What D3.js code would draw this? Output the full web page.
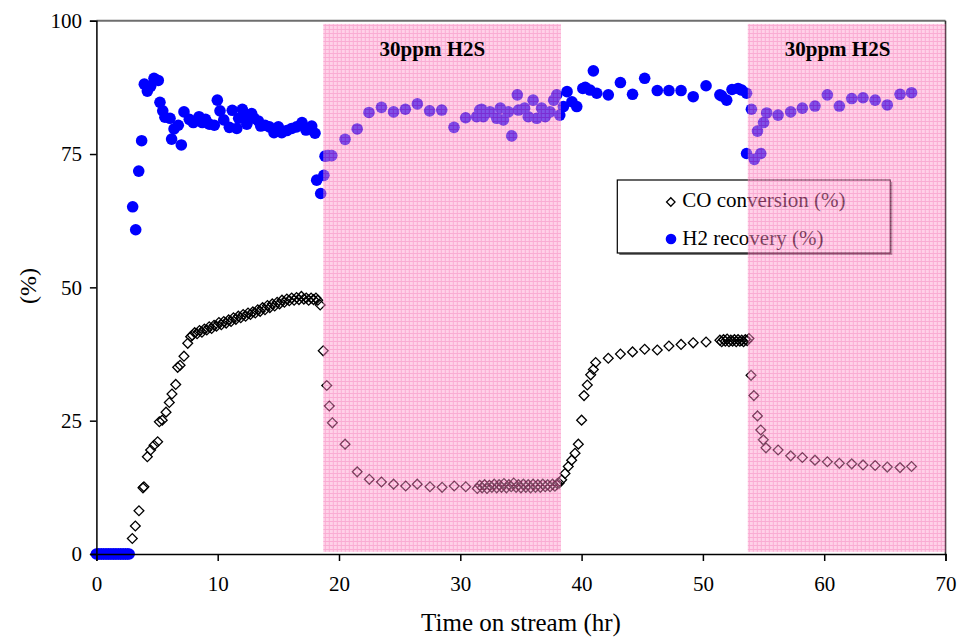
<!DOCTYPE html>
<meta charset="utf-8">
<script src="https://d3js.org/d3.v7.min.js"></script>
<style>
  body { margin: 0; background: #fff; }
  text { font-family: "Liberation Serif", "Times New Roman", serif; }
</style>
<div id="my_dataviz"></div>
<script>

// CO conversion (%) vs time on stream (hr)
var coTime = [0, 0.2, 0.4, 0.6, 0.8, 1.0, 1.2, 1.4, 1.6, 1.8, 2.0, 2.2, 2.4, 2.6,
  2.96, 3.21, 3.51, 3.84, 3.92, 4.2, 4.47, 4.75, 5.05, 5.19, 5.43, 5.74, 6.01, 6.23, 6.54, 6.7, 6.9, 7.22, 7.53, 7.77,
  7.9, 8.1, 8.3, 8.5, 8.7, 8.9, 9.1, 9.3, 9.5, 9.7, 9.9, 10.1, 10.3, 10.5, 10.7, 10.9, 11.1, 11.3, 11.5, 11.7, 11.9,
  12.1, 12.3, 12.5, 12.7, 12.9, 13.1, 13.3, 13.5, 13.7, 13.9, 14.1, 14.3, 14.5, 14.7, 14.9, 15.1, 15.3, 15.5, 15.7,
  15.9, 16.1, 16.3, 16.5, 16.7, 16.9, 17.1, 17.3, 17.5, 17.7, 17.9, 18.1, 18.25,
  18.45, 18.7, 18.99, 19.2, 19.45, 20.5, 21.5, 22.5, 23.5, 24.5, 25.5, 26.45, 27.5, 28.5, 29.5, 30.45,
  31.4, 31.6, 31.8, 32.0, 32.2, 32.4, 32.6, 32.8, 33.0, 33.2, 33.4, 33.6, 33.8, 34.0, 34.2, 34.4, 34.6, 34.8,
  35.0, 35.2, 35.4, 35.6, 35.8, 36.0, 36.2, 36.4, 36.6, 36.8, 37.0, 37.2, 37.4, 37.6, 37.8, 38.0, 38.15,
  38.36, 38.63, 38.9, 39.18, 39.46, 39.73, 40.0, 40.2, 40.47, 40.75, 40.97, 41.16, 42.2, 43.2, 44.2, 45.2,
  46.24, 47.2, 48.2, 49.2, 50.26,
  51.4, 51.55, 51.7, 51.85, 52.0, 52.15, 52.3, 52.45, 52.6, 52.75, 52.9, 53.05, 53.2, 53.35, 53.5, 53.65,
  53.8, 53.97, 54.2, 54.5, 54.77, 54.98, 55.2, 56.2, 57.24, 58.2, 59.24, 60.26, 61.25, 62.27, 63.2, 64.2, 65.2, 66.25, 67.2];
var coValue = [0, 0, 0, 0, 0, 0, 0, 0, 0, 0, 0, 0, 0, 0,
  2.9, 5.25, 8.1, 12.4, 12.6, 18.25, 19.5, 20.4, 21.05, 24.8, 25.1, 26.6, 28.4, 30.0, 31.8, 35.0, 35.4, 37.1, 39.5, 40.75,
  41.0, 41.5, 41.3, 41.9, 41.6, 42.2, 42.0, 42.6, 42.3, 42.9, 42.7, 43.4, 43.0, 43.6, 43.3, 43.9, 43.6, 44.3, 44.0, 44.6, 44.3,
  44.9, 44.6, 45.2, 44.9, 45.4, 45.2, 45.8, 45.5, 46.2, 45.8, 46.6, 46.2, 46.9, 46.5, 47.2, 46.9, 47.6, 47.2, 47.8,
  47.5, 48.0, 47.6, 48.1, 47.7, 48.3, 47.8, 48.0, 47.6, 48.0, 47.7, 48.0, 47.6,
  46.7, 38.1, 31.6, 27.75, 24.6, 20.6, 15.4, 14.0, 13.5, 13.1, 12.75, 13.1, 12.6, 12.5, 12.75, 12.6,
  12.3, 12.9, 12.4, 13.0, 12.3, 12.9, 12.5, 13.1, 12.4, 13.0, 12.5, 13.2, 12.4, 13.0, 12.6, 13.3, 12.5, 13.0,
  12.4, 13.1, 12.5, 13.0, 12.4, 13.1, 12.5, 13.0, 12.5, 13.1, 12.6, 13.0, 12.6, 13.1, 12.7, 13.2, 13.3,
  13.9, 15.1, 16.4, 17.6, 18.9, 20.6, 25.1, 29.7, 31.7, 33.6, 34.6, 35.9, 36.7, 37.5, 37.9, 38.4,
  38.25, 39.0, 39.3, 39.6, 39.75,
  40.1, 39.8, 40.2, 39.9, 40.3, 39.8, 40.1, 39.9, 40.2, 39.8, 40.2, 39.9, 40.1, 39.8, 40.2, 40.0,
  40.4, 33.5, 29.7, 25.9, 23.25, 21.4, 19.9, 19.5, 18.4, 18.1, 17.6, 17.3, 17.0, 16.9, 16.7, 16.6, 16.3, 16.2, 16.4];

// H2 recovery (%) vs time on stream (hr)
var h2Time = [0, 0.15, 0.3, 0.45, 0.6, 0.75, 0.9, 1.05, 1.2, 1.35, 1.5, 1.65, 1.8, 1.95, 2.1, 2.25, 2.4, 2.55, 2.7,
  2.99, 3.24, 3.49, 3.73, 3.95, 4.2, 4.47, 4.75, 5.1, 5.24, 5.47, 5.65, 6.07, 6.2, 6.4, 6.75, 7.0, 7.22, 7.66, 7.99,
  8.46, 8.73, 9.0, 9.31, 9.72, 9.97, 10.19, 10.5, 10.96, 11.2, 11.57, 11.73, 12.03, 12.4, 12.52, 12.8, 13.0, 13.35,
  13.55, 13.9, 14.26, 14.64, 15.0, 15.28, 15.7, 16.1, 16.5, 16.95, 17.28, 17.75, 18.02, 18.16, 18.49, 18.75,
  18.85, 19.1, 19.4, 20.5, 21.5, 22.47, 23.5, 24.5, 25.47, 26.46, 27.47, 28.47, 29.48, 30.44,
  31.35, 31.6, 31.76, 31.9, 32.45, 33.0, 33.3, 33.55, 33.96, 34.24, 34.7, 34.8, 35.3, 35.6, 36.0, 36.3, 36.7,
  37.0, 37.4, 37.7, 37.95, 38.2, 38.5, 38.8, 39.2, 39.6, 40.1, 40.3, 40.7, 40.97, 41.25, 42.2, 43.2, 44.2, 45.2,
  46.24, 47.2, 48.2, 49.2, 50.26, 51.4, 51.55, 51.96, 52.4, 52.9, 53.2, 53.6, 53.6,
  54.0, 54.24, 54.5, 54.77, 55.0, 55.26, 56.2, 57.24, 58.2, 59.24, 60.26, 61.25, 62.27, 63.2, 64.2, 65.2, 66.25, 67.2];
var h2Value = [0, 0, 0, 0, 0, 0, 0, 0, 0, 0, 0, 0, 0, 0, 0, 0, 0, 0, 0,
  65.1, 60.8, 71.8, 77.5, 88.1, 86.8, 87.7, 89.2, 88.8, 84.7, 83.1, 81.9, 81.7, 77.8, 79.7, 80.4, 76.7, 82.9, 81.5, 80.9,
  82.0, 80.9, 81.5, 80.6, 80.4, 85.1, 83.1, 81.4, 80.0, 83.2, 79.8, 81.7, 83.4, 80.6, 82.3, 82.6, 81.7, 81.2,
  80.25, 80.4, 80.1, 79.0, 80.1, 79.0, 79.4, 79.8, 80.1, 80.9, 79.5, 80.25, 78.9, 70.1, 67.6, 71.0,
  74.6, 74.7, 74.7, 77.75, 79.7, 82.8, 83.75, 82.9, 83.4, 84.4, 83.1, 83.25, 80.0, 81.8,
  82.0, 83.25, 83.4, 82.0, 82.9, 81.7, 83.6, 81.4, 82.9, 78.4, 86.1, 83.25, 83.6, 82.0, 85.1, 81.7, 83.6,
  82.0, 82.9, 85.1, 86.1, 82.3, 83.9, 86.7, 84.8, 83.9, 87.3, 87.5, 87.0, 90.6, 86.4, 86.1, 88.4, 86.2, 89.2,
  86.9, 86.9, 86.9, 85.75, 87.8, 86.1, 85.9, 85.1, 87.1, 87.3, 87.0, 86.4, 75.1,
  83.4, 74.0, 79.3, 75.1, 80.9, 82.7, 82.3, 82.9, 83.6, 84.0, 86.1, 84.0, 85.4, 85.55, 85.1, 84.2, 86.2, 86.5];

// 30ppm H2S exposure periods (hr)
var h2sStart = [18.7, 53.7];
var h2sEnd = [38.3, 70];
var h2sLabelAt = [27.7, 61.1];
var h2sLabel = "30ppm H2S";

var xTicks = [0, 10, 20, 30, 40, 50, 60, 70];
var yTicks = [0, 25, 50, 75, 100];
var seriesNames = ["CO conversion (%)", "H2 recovery (%)"];

// set the dimensions and margins of the graph
var margin = {top: 20.7, right: 14.5, bottom: 85, left: 96.4},
    width = 960 - margin.left - margin.right,
    height = 639 - margin.top - margin.bottom;

var svg = d3.select("#my_dataviz")
  .append("svg")
    .attr("width", 960)
    .attr("height", 639)
  .append("g")
    .attr("transform", "translate(" + margin.left + "," + margin.top + ")");

var x = d3.scaleLinear().domain([0, 70]).range([0, width]);
var y = d3.scaleLinear().domain([0, 100]).range([height, 0]);

var co = coTime.map(function(t, i) { return {t: t, v: coValue[i]}; });
var h2 = h2Time.map(function(t, i) { return {t: t, v: h2Value[i]}; });

// plot frame top / right
svg.append("line").attr("x1", 0).attr("x2", width).attr("y1", 0).attr("y2", 0)
    .attr("stroke", "#6e6e6e").attr("stroke-width", 2);
svg.append("line").attr("x1", width).attr("x2", width).attr("y1", 0).attr("y2", height)
    .attr("stroke", "#333").attr("stroke-width", 1.6);

// CO diamonds
var diamond = d3.symbol().type(d3.symbolSquare).size(48);
svg.selectAll(".co")
    .data(co)
    .enter()
    .append("path")
      .attr("class", "co")
      .attr("d", diamond)
      .attr("transform", function(d) { return "translate(" + x(d.t) + "," + y(d.v) + ") rotate(45)"; })
      .attr("fill", "none")
      .attr("stroke", "#000")
      .attr("stroke-width", 1.3);

// H2 circles
svg.selectAll(".h2")
    .data(h2)
    .enter()
    .append("circle")
      .attr("class", "h2")
      .attr("cx", function(d) { return x(d.t); })
      .attr("cy", function(d) { return y(d.v); })
      .attr("r", 5.8)
      .attr("fill", "#0000ff");

// legend
var lg = svg.append("g").attr("transform", "translate(" + (617.3 - margin.left) + "," + (180 - margin.top) + ")");
lg.append("rect").attr("x", 2).attr("y", 2).attr("width", 273).attr("height", 73).attr("fill", "#777");
lg.append("rect").attr("width", 273).attr("height", 73).attr("fill", "#fff").attr("stroke", "#000").attr("stroke-width", 1.2);
lg.append("path").attr("d", d3.symbol().type(d3.symbolSquare).size(36)).attr("transform", "translate(53.5,22) rotate(45)")
    .attr("fill", "none").attr("stroke", "#000").attr("stroke-width", 1.3);
lg.append("circle").attr("cx", 53.7).attr("cy", 59).attr("r", 5.3).attr("fill", "#0000ff");
lg.selectAll(".lt")
    .data(seriesNames)
    .enter()
    .append("text")
      .attr("x", 65)
      .attr("y", function(d, i) { return 27 + i * 37.5; })
      .style("font-size", "21px")
      .text(function(d) { return d; });

// shaded H2S periods, drawn over everything
var defs = svg.append("defs");
var pat = defs.append("pattern")
    .attr("id", "grid")
    .attr("patternUnits", "userSpaceOnUse")
    .attr("x", 0.4).attr("y", 0.3)
    .attr("width", 4).attr("height", 4);
pat.append("rect").attr("width", 4).attr("height", 4).attr("fill", "#ffa3d1");
pat.append("rect").attr("width", 4).attr("height", 1).attr("fill", "#f45aa7");
pat.append("rect").attr("width", 1).attr("height", 4).attr("fill", "#f45aa7");

svg.selectAll(".h2s")
    .data(h2sStart)
    .enter()
    .append("rect")
      .attr("class", "h2s")
      .attr("x", function(d) { return x(d); })
      .attr("width", function(d, i) { return x(h2sEnd[i]) - x(d); })
      .attr("y", y(99.4))
      .attr("height", y(0.4) - y(99.4))
      .attr("fill", "url(#grid)")
      .attr("opacity", 0.5);

svg.selectAll(".h2sl")
    .data(h2sLabelAt)
    .enter()
    .append("text")
      .attr("x", function(d) { return x(d); })
      .attr("y", 56 - margin.top)
      .attr("text-anchor", "middle")
      .style("font-size", "21px")
      .style("font-weight", "bold")
      .text(h2sLabel);

// axes
var xAxis = svg.append("g")
    .attr("transform", "translate(0," + height + ")")
    .call(d3.axisBottom(x).tickValues(xTicks).tickSizeOuter(0).tickSize(7).tickPadding(15));
var yAxis = svg.append("g")
    .call(d3.axisLeft(y).tickValues(yTicks).tickSizeOuter(0).tickSize(6.5).tickPadding(8));
[xAxis, yAxis].forEach(function(a) {
  a.selectAll("path, line").attr("stroke", "#000").attr("stroke-width", 1.5);
  a.selectAll("text").style("font-family", "Liberation Serif").style("font-size", "21px").attr("fill", "#000");
});

// axis titles
svg.append("text")
    .attr("x", 521 - margin.left)
    .attr("y", 631 - margin.top)
    .attr("text-anchor", "middle")
    .style("font-size", "25px")
    .text("Time on stream (hr)");

svg.append("text")
    .attr("transform", "translate(" + (36 - margin.left) + "," + (286 - margin.top) + ") rotate(-90)")
    .attr("text-anchor", "middle")
    .style("font-size", "24px")
    .text("(%)");

</script>
